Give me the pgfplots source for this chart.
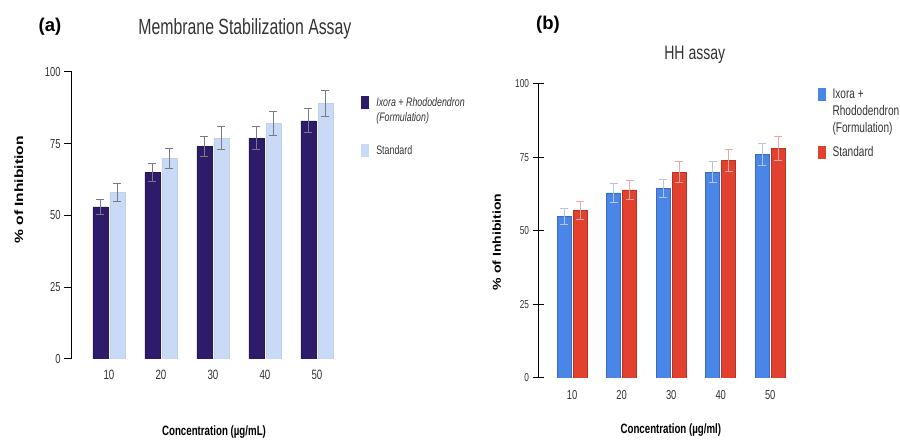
\documentclass[border=0pt]{standalone}
\usepackage{graphicx}
\usepackage{pgfplots}
\usepackage{pgfplotstable}
\pgfplotsset{compat=1.18}
\usepackage{fontspec}
\setmainfont{Liberation Sans}
\newfontfamily\nar{Liberation Sans}[FakeStretch=0.72]
\definecolor{darkind}{HTML}{2E1C6A}
\definecolor{lightbl}{HTML}{C8DAF5}
\definecolor{gblue}{HTML}{4A86E8}
\definecolor{gred}{HTML}{E2412F}
\definecolor{txt}{HTML}{333333}
\definecolor{errA}{HTML}{7A7A84}
\definecolor{errB1}{HTML}{B8C4DC}
\definecolor{errB2}{HTML}{E9A9A4}
\tikzset{legshift/.initial=0pt}

\pgfplotstableread{
x y e
0 53 2.7
1 65 3.3
2 74 3.6
3 77 4.0
4 83 4.2
}\aform
\pgfplotstableread{
x y e
0 58 3.0
1 70 3.5
2 77 3.9
3 82 4.2
4 89 4.5
}\astd
\pgfplotstableread{
x y e
0 55 2.8
1 63 3.3
2 64.5 3.2
3 70 3.5
4 76 3.8
}\bform
\pgfplotstableread{
x y e
0 57 3.0
1 64 3.3
2 70 3.5
3 74 3.8
4 78 4.0
}\bstd

\pgfplotsset{
  common/.style={
    scale only axis, ybar, ymin=0, ymax=100, xmin=-0.71, xmax=4.5,
    ytick={0,25,50,75,100}, xtick={0,1,2,3,4}, xticklabels={10,20,30,40,50},
    axis y line*=left, axis x line*=bottom,
    x axis line style={draw=none},
    y axis line style={-, line width=1pt, black},
    xtick style={draw=none},
    ytick style={line width=1pt, black},
    /pgf/number format/assume math mode=true,
    yticklabel style={font=\nar\fontsize{13}{13}\selectfont, text=txt},
    xticklabel style={font=\nar\fontsize{13.5}{13.5}\selectfont, text=txt, yshift=0pt},
    label style={text=black},
    title style={font=\nar\fontsize{22}{22}\selectfont, text=txt, anchor=center},
    legend cell align=left,
    legend style={draw=none, fill=none, inner sep=0pt, anchor=north west,
      text=txt, cells={align=left}, column sep=5pt},
    every axis plot post/.append style={
      legend image code/.code={\begin{scope}[##1]
        \pgfmathsetlengthmacro\ls{\pgfkeysvalueof{/tikz/legshift}}
        \fill[draw=none] (0pt,\ls-6.5pt) rectangle (8pt,\ls+6.5pt);
        \path (0pt,-\ls-6.5pt) (0pt,\ls+6.5pt);
      \end{scope}}},
  }
}

\begin{document}
\begin{tikzpicture}[x=1pt,y=1pt]
\path[use as bounding box] (0,0) rectangle (900,444);

% ---------- (a) ----------
\begin{axis}[common,
  at={(72pt,85pt)}, anchor=south west,
  width=271pt, height=287pt,
  ytick align=outside, major tick length=8pt,
  title={Membrane Stabilization Assay},
  title style={at={(axis description cs:0.638,1.13)}},
  xlabel={\nar\bfseries\fontsize{13.5}{13.5}\selectfont Concentration (µg/mL)},
  xlabel style={at={(axis description cs:0.524,-0.254)}, anchor=center},
  ylabel={\scalebox{1.3}[1]{\bfseries\fontsize{12}{12}\selectfont \% of Inhibition}},
  ylabel style={at={(axis description cs:-0.196,0.589)}, anchor=center},
  legend style={at={(axis description cs:1.066,0.918)}, row sep=18pt,
    font=\nar\fontsize{12.3}{15}\selectfont},
  error bars/y dir=both, error bars/y explicit,
  error bars/error bar style={line width=0.9pt, color=errA},
  error bars/error mark options={rotate=90, mark size=4pt, line width=0.9pt, color=errA},
]
\addplot[fill=darkind, draw=darkind!80!black, line width=0.5pt, bar width=15pt, bar shift=-8.5pt, legshift=7.5pt]
  table[x=x, y=y, y error=e]{\aform};
\addlegendentry{{\itshape Ixora + Rhododendron}\\{\itshape (Formulation)}}
\addplot[fill=lightbl, draw=lightbl!90!gray, line width=0.5pt, bar width=15pt, bar shift=8.5pt]
  table[x=x, y=y, y error=e]{\astd};
\addlegendentry{Standard}
\end{axis}

% ---------- (b) ----------
\begin{axis}[common,
  at={(538pt,66pt)}, anchor=south west,
  width=257pt, height=294pt,
  xmin=-0.69,
  ytick align=center, major tick length=11pt,
  yticklabel style={font=\nar\fontsize{11.5}{11.5}\selectfont},
  xticklabel style={font=\nar\fontsize{13}{13}\selectfont, yshift=2.5pt},
  title={HH assay},
  title style={font=\nar\fontsize{19.5}{19.5}\selectfont, at={(axis description cs:0.61,1.08)}},
  xlabel={\nar\bfseries\fontsize{13.5}{13.5}\selectfont Concentration (µg/ml)},
  xlabel style={at={(axis description cs:0.517,-0.177)}, anchor=center},
  ylabel={\scalebox{1.22}[1]{\bfseries\fontsize{11.5}{11.5}\selectfont \% of Inhibition}},
  ylabel style={at={(axis description cs:-0.16,0.463)}, anchor=center},
  legend style={at={(axis description cs:1.086,0.990)}, row sep=8pt,
    font=\nar\fontsize{14}{17}\selectfont},
]
\addplot[fill=gblue, draw=gblue!80!black, line width=0.5pt, bar width=14pt, bar shift=-8pt, legshift=17pt,
  error bars/y dir=both, error bars/y explicit,
  error bars/error bar style={line width=0.9pt, color=errB1},
  error bars/error mark options={rotate=90, mark size=4pt, line width=0.9pt, color=errB1}]
  table[x=x, y=y, y error=e]{\bform};
\addlegendentry{Ixora +\\Rhododendron\\(Formulation)}
\addplot[fill=gred, draw=gred!80!black, line width=0.5pt, bar width=14pt, bar shift=8pt,
  error bars/y dir=both, error bars/y explicit,
  error bars/error bar style={line width=0.9pt, color=errB2},
  error bars/error mark options={rotate=90, mark size=4pt, line width=0.9pt, color=errB2}]
  table[x=x, y=y, y error=e]{\bstd};
\addlegendentry{Standard}
\end{axis}

\node[font=\bfseries\fontsize{18.5}{18.5}\selectfont, text=black] at (50,417) {(a)};
\node[font=\bfseries\fontsize{18.5}{18.5}\selectfont, text=black] at (548,419) {(b)};
\end{tikzpicture}
\end{document}
